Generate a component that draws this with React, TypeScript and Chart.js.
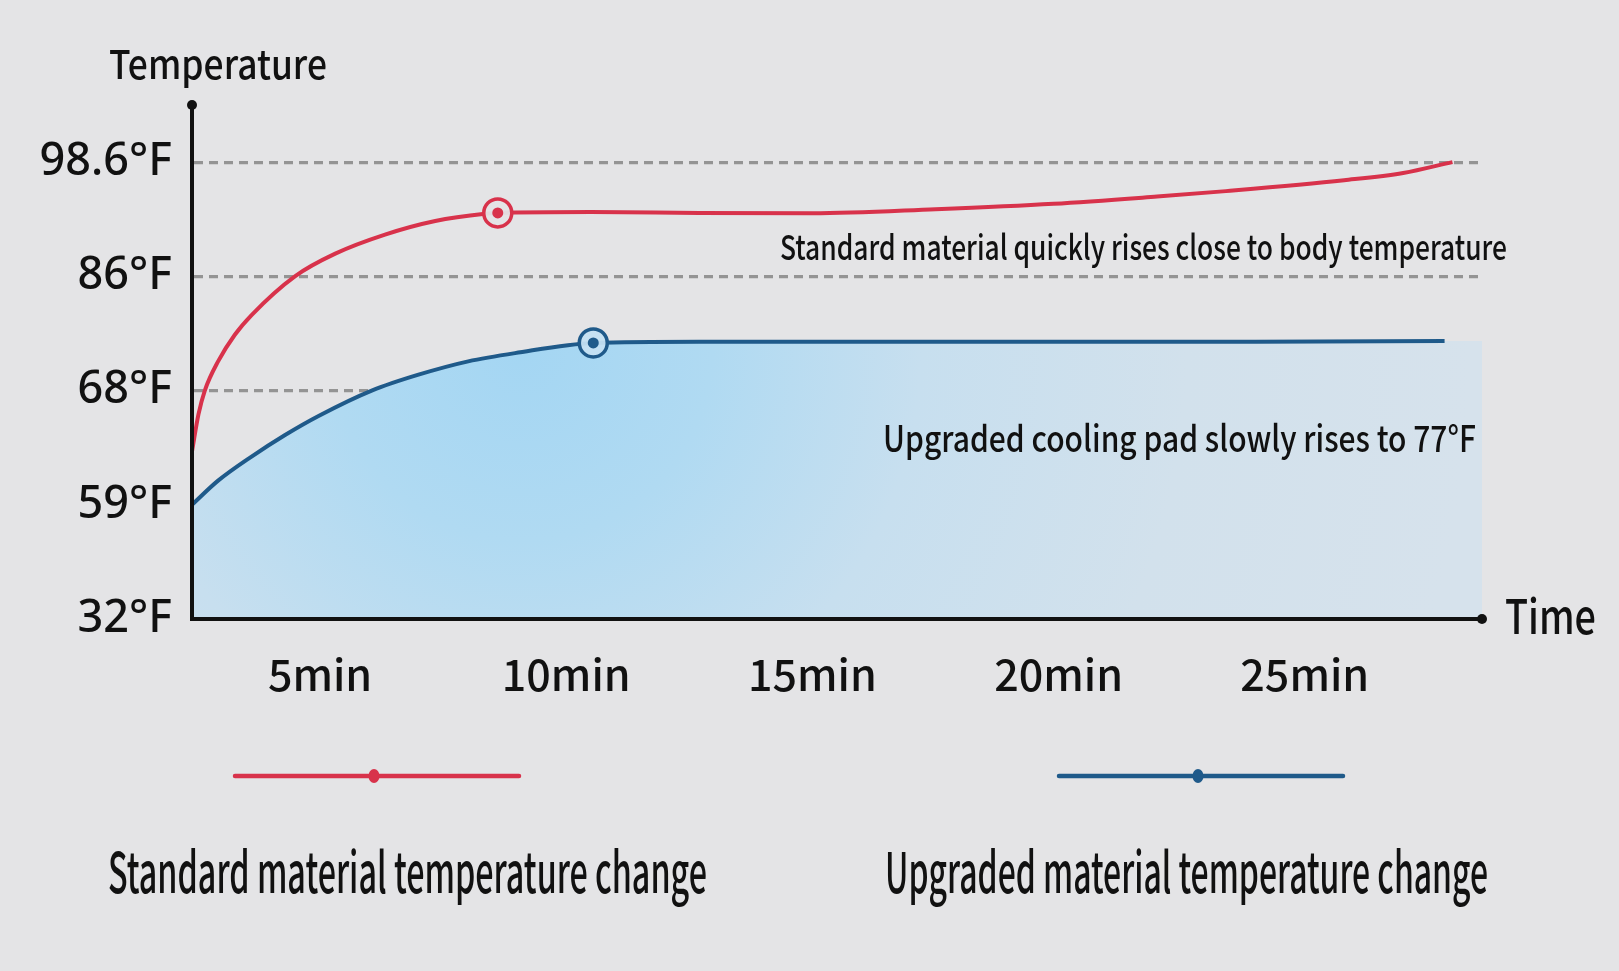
import { useEffect, useRef } from "react";
import { Chart, registerables } from "chart.js";

Chart.register(...registerables);

const seriesNames = [
  "Standard material temperature change",
  "Upgraded material temperature change",
];
const xTickValues = [5, 10, 15, 20, 25];
const xTickLabels = ["5min", "10min", "15min", "20min", "25min"];
const yTickTemps = [32, 59, 68, 86, 98.6];
const yTickLabels = ["32°F", "59°F", "68°F", "86°F", "98.6°F"];

const standardTimes = [2.4, 2.53, 2.66, 2.93, 3.27, 3.61, 4.49, 5.31, 6.32, 7.34, 8.35, 8.61, 10.5, 12.7, 15.0, 17.5, 19.9, 22.0, 23.4, 25.8, 27.0, 28.0];
const standardTemps = [63.2, 66.1, 68.0, 72.6, 76.8, 79.9, 86.0, 88.5, 90.6, 92.1, 92.9, 93.0, 93.1, 93.0, 92.95, 93.4, 94.0, 94.8, 95.4, 96.6, 97.4, 98.6];

const upgradedTimes = [2.4, 2.93, 3.61, 4.29, 4.97, 6.05, 7.0, 8.01, 8.96, 10.55, 12.7, 16, 20, 24, 27.84, 28.6];
const upgradedTemps = [59, 60.9, 62.8, 64.5, 66.0, 68.0, 70.5, 72.6, 73.9, 75.5, 75.7, 75.7, 75.7, 75.7, 75.8, 75.8];

const markerTimes = [8.61, 10.55];
const markerTemps = [93.0, 75.5];

const annotations = [
  "Standard material quickly rises close to body temperature",
  "Upgraded cooling pad slowly rises to 77°F",
];
const axisTitles = ["Temperature", "Time"];

const RED = "#d8324b";
const BLUE = "#1f5a8a";
const INK = "#111111";
const BG = "#e4e4e6";
const FONT = "'Noto Sans CJK SC', 'Noto Sans', sans-serif";

// the y axis has evenly spaced ticks that are not evenly spaced in °F
function toPos(temp: number) {
  for (let i = 0; i < yTickTemps.length - 1; i++) {
    const a = yTickTemps[i];
    const b = yTickTemps[i + 1];
    if (temp <= b || i === yTickTemps.length - 2) return i + (temp - a) / (b - a);
  }
  return 0;
}

function fitText(
  ctx: CanvasRenderingContext2D,
  text: string,
  left: number,
  baseline: number,
  size: number,
  weight: number,
  width: number
) {
  ctx.save();
  ctx.font = `${weight} ${size}px ${FONT}`;
  ctx.fillStyle = INK;
  ctx.textAlign = "left";
  ctx.textBaseline = "alphabetic";
  const w = ctx.measureText(text).width;
  ctx.translate(left, baseline);
  ctx.scale(width / w, 1);
  ctx.fillText(text, 0, 0);
  ctx.restore();
}

const decorations = {
  id: "decorations",
  afterDraw(chart: Chart) {
    const { ctx, chartArea } = chart;
    const { left, top, right, bottom } = chartArea;
    ctx.save();
    // axes again, on top of the shaded area, with their end dots
    ctx.strokeStyle = INK;
    ctx.lineWidth = 4;
    ctx.beginPath();
    ctx.moveTo(left, top);
    ctx.lineTo(left, bottom);
    ctx.lineTo(right, bottom);
    ctx.stroke();
    ctx.fillStyle = INK;
    ctx.beginPath();
    ctx.arc(left, top, 5, 0, Math.PI * 2);
    ctx.fill();
    ctx.beginPath();
    ctx.arc(right, bottom, 5, 0, Math.PI * 2);
    ctx.fill();
    ctx.restore();

    fitText(ctx, axisTitles[0], 109, 79, 40, 500, 218);
    fitText(ctx, axisTitles[1], 1505, 634, 48, 500, 91);
    fitText(ctx, annotations[0], 780, 260, 34, 500, 727);
    fitText(ctx, annotations[1], 883, 452, 36, 500, 593);

    // legend
    const items = [
      { color: RED, x1: 235, x2: 519, dot: 374, textX: 108, textW: 599 },
      { color: BLUE, x1: 1059, x2: 1343, dot: 1198, textX: 885, textW: 603 },
    ];
    items.forEach((it, i) => {
      ctx.save();
      ctx.strokeStyle = it.color;
      ctx.lineWidth = 4.5;
      ctx.lineCap = "round";
      ctx.beginPath();
      ctx.moveTo(it.x1, 776);
      ctx.lineTo(it.x2, 776);
      ctx.stroke();
      ctx.fillStyle = it.color;
      ctx.beginPath();
      ctx.ellipse(it.dot, 776, 5.5, 7, 0, 0, Math.PI * 2);
      ctx.fill();
      ctx.restore();
      fitText(ctx, seriesNames[i], it.textX, 893, 56, 500, it.textW);
    });
  },
};

export default function App() {
  const canvasRef = useRef<HTMLCanvasElement>(null);
  const chartRef = useRef<Chart | null>(null);

  useEffect(() => {
    if (!canvasRef.current) return;
    if (chartRef.current) chartRef.current.destroy();
    const ctx = canvasRef.current.getContext("2d");
    if (!ctx) return;

    const upgradedPoints = upgradedTimes.map((t, i) => ({ x: t, y: toPos(upgradedTemps[i]) }));
    const markerPoints = markerTimes.map((t, i) => ({ x: t, y: toPos(markerTemps[i]) }));

    chartRef.current = new Chart(ctx, {
      type: "line",
      data: {
        datasets: [
          {
            label: "marker dots",
            data: markerPoints,
            showLine: false,
            pointRadius: 5.5,
            pointBorderWidth: 0,
            pointBackgroundColor: [RED, BLUE],
            order: 0,
          },
          {
            label: "marker rings",
            data: markerPoints,
            showLine: false,
            pointRadius: 14,
            pointBorderWidth: 3.5,
            pointBorderColor: [RED, BLUE],
            pointBackgroundColor: ["rgba(228,228,230,0.95)", "rgba(196,224,242,0.95)"],
            order: 1,
          },
          {
            label: seriesNames[0],
            data: standardTimes.map((t, i) => ({ x: t, y: toPos(standardTemps[i]) })),
            borderColor: RED,
            borderWidth: 4,
            pointRadius: 0,
            cubicInterpolationMode: "monotone",
            fill: false,
            order: 2,
          },
          {
            label: seriesNames[1],
            // the drawn line stops a little before the shaded area does
            data: upgradedPoints.slice(0, -1),
            borderColor: BLUE,
            borderWidth: 4,
            pointRadius: 0,
            cubicInterpolationMode: "monotone",
            fill: false,
            order: 3,
          },
          {
            label: "upgraded area",
            data: upgradedPoints,
            borderWidth: 0,
            pointRadius: 0,
            cubicInterpolationMode: "monotone",
            fill: "origin",
            backgroundColor: (c: any) => {
              const area = c.chart.chartArea;
              if (!area) return "rgba(170,216,242,0.7)";
              const cx = area.left + 330;
              const cy = area.top + 245;
              const g = c.chart.ctx.createRadialGradient(cx, cy, 0, cx, cy, 950);
              g.addColorStop(0, "rgb(164,214,243)");
              g.addColorStop(0.2, "rgb(176,218,242)");
              g.addColorStop(0.42, "rgb(199,223,239)");
              g.addColorStop(0.7, "rgb(210,225,236)");
              g.addColorStop(1, "rgb(214,226,236)");
              return g;
            },
            order: 4,
          },
        ],
      },
      options: {
        animation: false,
        responsive: true,
        maintainAspectRatio: false,
        events: [],
        layout: { padding: { top: 105, right: 137, left: 0, bottom: 0 } },
        plugins: {
          legend: { display: false },
          tooltip: { enabled: false },
        },
        scales: {
          x: {
            type: "linear",
            min: 2.4,
            max: 28.6,
            afterBuildTicks: (s: any) => {
              s.ticks = xTickValues.map((v) => ({ value: v }));
            },
            afterFit: (s: any) => {
              s.height = 971 - 619;
            },
            ticks: {
              callback: (_v: any, i: number) => xTickLabels[i],
              font: { family: FONT, size: 43, weight: 500 },
              color: INK,
              padding: 30,
              maxRotation: 0,
              autoSkip: false,
            },
            grid: { color: "rgba(0,0,0,0)", drawTicks: false },
            border: { color: INK, width: 4 },
          },
          y: {
            type: "linear",
            min: 0,
            max: 4.5,
            afterBuildTicks: (s: any) => {
              s.ticks = yTickTemps.map((_t, i) => ({ value: i }));
            },
            afterFit: (s: any) => {
              s.width = 192;
            },
            ticks: {
              callback: (_v: any, i: number) => yTickLabels[i],
              font: { family: "'Noto Sans', sans-serif", size: 45, weight: 500 },
              color: INK,
              padding: 20,
            },
            grid: {
              color: (c: any) => (c.tick && c.tick.value === 0 ? "rgba(0,0,0,0)" : "#949494"),
              lineWidth: 3.2,
              drawTicks: false,
            },
            border: { color: INK, width: 4, dash: [9, 6] },
          },
        },
      },
      plugins: [decorations],
    });

    return () => {
      chartRef.current?.destroy();
    };
  }, []);

  return (
    <div
      style={{
        position: "fixed",
        left: 0,
        top: 0,
        width: 1619,
        height: 971,
        background: BG,
      }}
    >
      <canvas ref={canvasRef} />
    </div>
  );
}
